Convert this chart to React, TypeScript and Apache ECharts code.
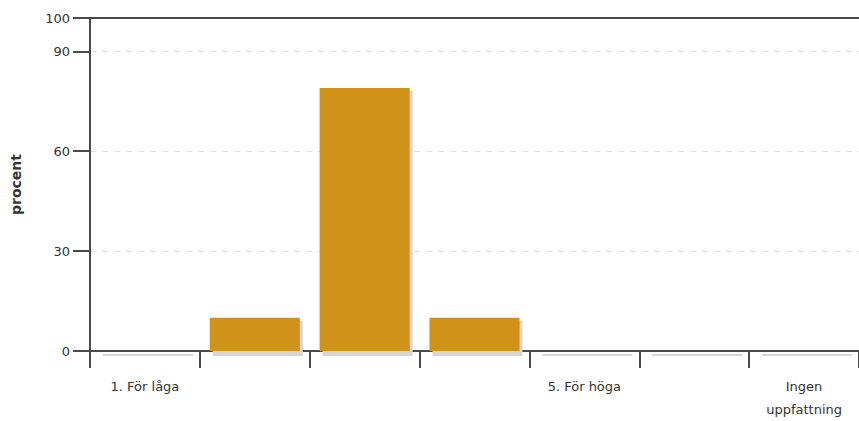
import React, { useEffect, useRef } from "react";
import * as echarts from "echarts";

const categories = ["1. För låga", "", "", "", "5. För höga", "", "Ingen\nuppfattning"];
const values = [0, 10, 79, 10, 0, 0, 0];
const yTicks = { min: 0, max: 100, interval: 30 };
const yName = "procent";

const BAR_COLOR = "#D09219";
const SHADOW_COLOR = "#d6d6d6";
const AXIS_COLOR = "#4a4a4a";
const FONT = "'DejaVu Sans', sans-serif";

export default function App() {
  const ref = useRef<HTMLDivElement>(null);
  useEffect(() => {
    if (!ref.current) return;
    const chart = echarts.init(ref.current, undefined, { renderer: "svg" });
    chart.setOption({
      animation: false,
      backgroundColor: "#ffffff",
      grid: { left: 90, right: -2, top: 18, bottom: 66 },
      xAxis: [
        {
          type: "category",
          data: categories,
          axisLine: { show: true, lineStyle: { color: AXIS_COLOR, width: 2 } },
          axisTick: { show: true, length: 17, alignWithLabel: false, lineStyle: { color: AXIS_COLOR, width: 2 } },
          axisLabel: {
            show: true,
            interval: 0,
            margin: 24,
            color: "#333",
            fontFamily: FONT,
            fontSize: 13,
            lineHeight: 23,
          },
          splitLine: { show: false },
        },
        {
          type: "category",
          position: "top",
          data: categories,
          axisLine: { show: true, lineStyle: { color: AXIS_COLOR, width: 2 } },
          axisTick: { show: false },
          axisLabel: { show: false },
        },
      ],
      yAxis: {
        type: "value",
        min: yTicks.min,
        max: yTicks.max,
        interval: yTicks.interval,
        name: yName,
        nameLocation: "middle",
        nameGap: 67,
        nameTextStyle: { color: "#333", fontFamily: FONT, fontSize: 14, fontWeight: "bold" },
        axisLine: { show: true, lineStyle: { color: AXIS_COLOR, width: 2 } },
        axisTick: { show: true, length: 17, lineStyle: { color: AXIS_COLOR, width: 2 } },
        axisLabel: { margin: 20, color: "#333", fontFamily: FONT, fontSize: 13 },
        splitLine: { show: true, lineStyle: { color: "#dde1e6", type: [6, 6], width: 1 } },
      },
      series: [
        {
          type: "custom",
          z: 1,
          data: values.map((v, i) => [i, v]),
          renderItem: (params: any, api: any) => {
            const top = api.coord([api.value(0), api.value(1)]);
            const base = api.coord([api.value(0), 0]);
            const w = api.size([1, 0])[0] * 0.82;
            return {
              type: "rect",
              shape: { x: top[0] - w / 2 + 3, y: top[1] + 3, width: w, height: base[1] - top[1] + 2 },
              style: { fill: SHADOW_COLOR },
            };
          },
        },
        {
          type: "bar",
          z: 3,
          data: values,
          barWidth: "82%",
          itemStyle: { color: BAR_COLOR },
        },
      ],
    });
    return () => chart.dispose();
  }, []);
  return (
    <div
      ref={ref}
      style={{ position: "absolute", left: 0, top: 0, width: 859, height: 421 }}
    />
  );
}
